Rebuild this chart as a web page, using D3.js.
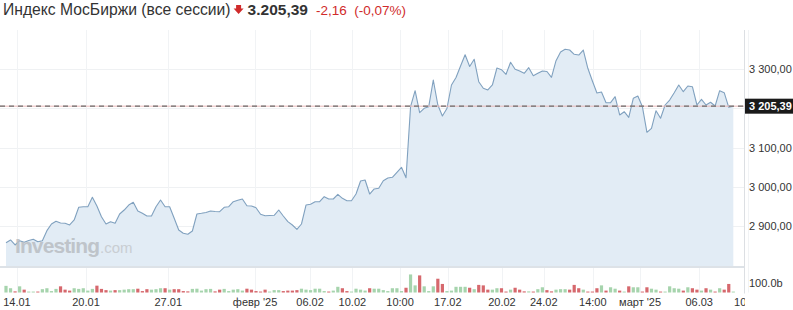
<!DOCTYPE html>
<html><head><meta charset="utf-8">
<script src="https://cdn.jsdelivr.net/npm/d3@7"></script>
<style>html,body{margin:0;padding:0;background:#fff;}svg{display:block;font-family:"Liberation Sans",Arial,sans-serif;}</style>
</head><body>
<svg id="c" width="793" height="310"></svg>
<script>
const closes = [2858.0,2864.9,2852.2,2863.1,2859.0,2863.6,2866.7,2860.6,2863.1,2888.6,
2905.6,2912.5,2908.1,2907.4,2903.1,2915.8,2948.1,2949.6,2949.6,2973.5,
2951.4,2924.2,2905.6,2911.5,2907.4,2931.0,2941.2,2953.9,2960.8,2938.7,
2932.8,2926.0,2926.0,2949.6,2966.7,2949.6,2949.6,2920.1,2890.3,2881.9,
2879.4,2887.8,2931.0,2932.8,2934.9,2938.7,2937.4,2936.9,2948.1,2949.6,
2962.3,2965.9,2969.2,2952.2,2951.4,2947.1,2930.3,2926.7,2927.2,2927.7,
2941.2,2926.0,2911.5,2903.1,2892.1,2905.6,2953.9,2955.7,2962.3,2962.3,
2975.1,2969.2,2969.2,2981.2,2971.0,2964.9,2964.9,2981.9,3015.0,3017.6,
2981.9,2994.7,2996.4,3015.8,3022.6,3024.4,3037.2,3049.9,3023.4,3204.1,
3244.8,3188.8,3200.0,3204.1,3272.0,3208.4,3180.4,3199.5,3259.3,3278.4,
3307.6,3336.4,3306.4,3324.7,3267.7,3250.9,3246.6,3259.3,3302.5,3298.2,
3286.5,3317.0,3299.2,3294.9,3289.1,3303.3,3283.0,3289.1,3294.9,3293.6,
3278.9,3321.1,3343.3,3350.1,3348.3,3337.4,3335.6,3348.3,3301.8,3269.5,
3238.9,3241.5,3214.3,3214.3,3229.5,3183.0,3191.3,3177.1,3225.4,3231.3,
3204.1,3138.9,3149.1,3193.9,3174.6,3208.4,3221.1,3239.7,3259.3,3242.2,
3256.7,3255.0,3208.4,3222.9,3208.4,3215.3,3205.9,3244.8,3239.7,3202.5,
3205.39];
const volumes = [70,45,12,65,30,10,10,10,35,45,
15,38,65,30,20,45,38,45,20,38,
72,38,25,20,25,25,30,35,35,40,
15,35,30,35,45,45,30,35,35,15,
12,38,40,20,35,38,12,30,38,15,
30,35,20,40,30,15,10,30,10,25,
25,15,20,20,25,40,30,25,40,40,
15,10,20,60,45,15,10,40,30,20,
45,40,40,25,15,45,45,15,50,190,
75,180,65,15,65,145,90,15,20,60,
60,60,50,35,80,75,30,30,45,45,
10,30,50,30,12,12,10,35,55,25,
12,30,35,35,30,80,45,30,10,10,
45,75,20,55,40,20,10,65,55,55,
10,55,40,30,10,10,65,45,40,20,
55,45,30,20,45,30,10,45,30,90,
10];
const xTickLabels = ["14.01","20.01","27.01","февр '25","06.02","10.02","10:00","17.02","20.02","24.02","14:00","март '25","06.03","10.03"];
const xTickIndex = [2.4,17.6,35.7,54.8,66.9,76.2,86.7,97.2,109.1,118.3,129.1,139.5,152.5,163.2];
const yTicks = [2900,3000,3100,3200,3300];
const yTickLabelsShown = [2900,3000,3100,3300];
const volTick = 100;
const title = "Индекс МосБиржи (все сессии)";
const lastPrice = "3.205,39";
const change = "-2,16";
const changePct = "(-0,07%)";

const svg = d3.select("#c");
const ru = d3.formatLocale({decimal:",", thousands:"\u00a0", grouping:[3], currency:["",""]});
const fmt = ru.format(",.2f");

const plotRight = 744, plotBottom = 267, volBase = 292.5;
const x = d3.scaleLinear().domain([0, closes.length-1]).range([6, 733.3]);
const y = d3.scaleLinear().domain([2900, 3300]).range([226.2, 69]);
const yv = d3.scaleLinear().domain([0, volTick]).range([volBase, 283]);

const defs = svg.append("defs");
defs.append("clipPath").attr("id","pc").append("rect").attr("x",0).attr("y",30).attr("width",plotRight).attr("height",plotBottom-30);
defs.append("clipPath").attr("id","xc").append("rect").attr("x",0).attr("y",290).attr("width",plotRight+1).attr("height",20);

// grid
const g = svg.append("g");
g.selectAll(".hg").data(yTicks).join("line")
  .attr("x1",0).attr("x2",plotRight).attr("y1",d=>Math.round(y(d))+0.5).attr("y2",d=>Math.round(y(d))+0.5)
  .attr("stroke","#eff1f3").attr("stroke-width",1);
g.selectAll(".vg").data(xTickIndex).join("line")
  .attr("x1",d=>Math.round(x(d))+0.5).attr("x2",d=>Math.round(x(d))+0.5).attr("y1",30).attr("y2",volBase)
  .attr("stroke","#f1f3f5").attr("stroke-width",1);

// area
const area = d3.area().x((d,i)=>x(i)).y0(plotBottom).y1(d=>y(d));
const line = d3.line().x((d,i)=>x(i)).y(d=>y(d));
const pg = svg.append("g").attr("clip-path","url(#pc)");
pg.append("path").datum(closes).attr("d",area).attr("fill","#e2ecf5");

// watermark
const wm = svg.append("text").attr("x",15).attr("y",253).attr("fill","#b9bec3").attr("opacity",0.85);
wm.append("tspan").text("Investing").attr("font-size",21).attr("font-weight","bold").attr("letter-spacing",-0.9);
wm.append("tspan").text(".com").attr("font-size",15).attr("fill","#c5c9cd").attr("dx",1);

pg.append("path").datum(closes).attr("d",line).attr("fill","none").attr("stroke","#80a1bf").attr("stroke-width",1.1).attr("stroke-linejoin","round");

// separator under area
svg.append("rect").attr("x",0).attr("y",plotBottom-1).attr("width",plotRight).attr("height",2).attr("fill","#dde2e7");

// volume bars
svg.append("g").selectAll("rect").data(volumes).join("rect")
  .attr("x",(d,i)=>x(i)-1.6).attr("width",3.2)
  .attr("y",d=>yv(d)).attr("height",d=>volBase-yv(d))
  .attr("fill",(d,i)=> (i===0 || closes[i]>=closes[i-1]) ? "#a6d4ad" : "#d6686d");

// right border
svg.append("line").attr("x1",plotRight+0.5).attr("x2",plotRight+0.5).attr("y1",30).attr("y2",volBase+1).attr("stroke","#dcdfe3");

// current price line
const py = y(3205.39);
svg.append("line").attr("x1",0).attr("x2",plotRight).attr("y1",py).attr("y2",py).attr("stroke","#e9b8b8").attr("stroke-width",1);
svg.append("line").attr("x1",0).attr("x2",plotRight).attr("y1",py).attr("y2",py).attr("stroke","#6b6b6b").attr("stroke-width",1.2).attr("stroke-dasharray","5,4");

// y labels
svg.append("g").selectAll("text").data(yTickLabelsShown).join("text")
  .attr("x",749).attr("y",d=>y(d)+4).attr("font-size",11).attr("fill","#333").text(d=>fmt(d));
svg.append("text").attr("x",749).attr("y",yv(volTick)+4).attr("font-size",11).attr("fill","#333").text(d3.format(".1f")(volTick)+"b");

// price tag
svg.append("rect").attr("x",plotRight+1).attr("y",py-7.5).attr("width",48).attr("height",15).attr("fill","#1a1a1a");
svg.append("text").attr("x",749).attr("y",py+4).attr("font-size",11).attr("font-weight","bold").attr("fill","#fff").text(fmt(3205.39));

// x labels
svg.append("g").attr("clip-path","url(#xc)").selectAll("text").data(xTickLabels).join("text")
  .attr("x",(d,i)=>x(xTickIndex[i])).attr("y",306).attr("text-anchor","middle").attr("font-size",11).attr("fill","#333").text(d=>d);

// title
const t = svg.append("text").attr("x",3).attr("y",15).attr("font-size",15.7).attr("fill","#333");
t.append("tspan").text(title);
const tw = t.node().getComputedTextLength();
const ax = 3 + tw + 8;
svg.append("path").attr("d",`M${ax-2.5},5 L${ax+2.5},5 L${ax+2.5},8.5 L${ax+5},8.5 L${ax},14 L${ax-5},8.5 L${ax-2.5},8.5 Z`).attr("fill","#d02b2b");
const pt = svg.append("text").attr("x",ax+9).attr("y",15).attr("font-size",15.5).attr("font-weight","bold").attr("fill","#333").text(lastPrice);
const pw = pt.node().getComputedTextLength();
svg.append("text").attr("x",ax+9+pw+8).attr("y",15).attr("font-size",13.5).attr("fill","#d02b2b").attr("xml:space","preserve").text(change+"  "+changePct);
</script>
</body></html>
